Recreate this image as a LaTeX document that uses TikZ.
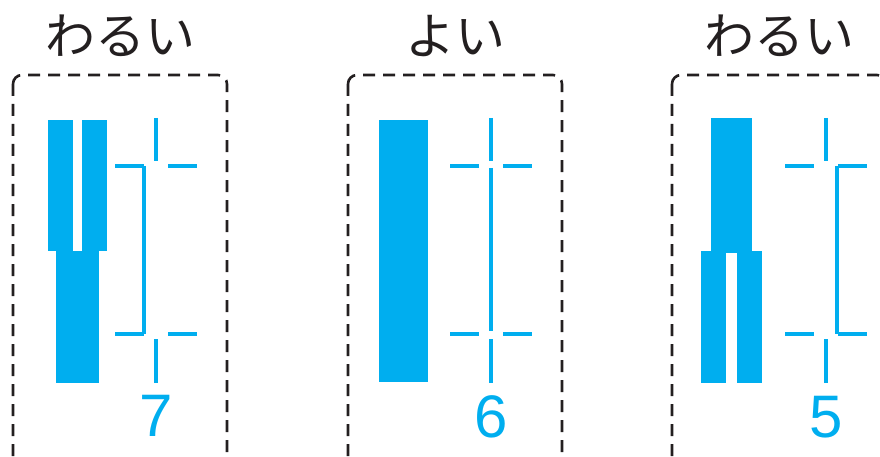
\documentclass[tikz,border=0pt]{standalone}
\usepackage{fontspec}
\newfontfamily\jpfont{Noto Sans CJK JP}
\newfontfamily\numfont{Liberation Sans}
\usetikzlibrary{positioning}
\definecolor{sky}{RGB}{0,174,239}
\definecolor{ink}{RGB}{35,31,32}
\tikzset{
  frame/.style={draw=ink,line width=2.6pt,dash pattern=on 12pt off 8pt,rounded corners=9pt},
  bar/.style={fill=sky},
  tickline/.style={draw=sky,line width=4.6pt},
  verdict/.style={font=\jpfont\fontsize{50}{60}\selectfont,text=ink,inner sep=0pt},
  count/.style={font=\numfont\fontsize{60}{70}\selectfont,text=sky,inner sep=0pt},
  % measuring gauge
  pics/ruler/.style={code={
    \draw[tickline] (0,118) -- (0,161) (0,339) -- (0,383);
    \draw[tickline] (-41,166) -- (-12,166) (12,166) -- (41,166);
    \draw[tickline] (-41,334) -- (-12,334) (12,334) -- (41,334);
  }},
}
\begin{document}
\begin{tikzpicture}[x=1pt,y=-1pt]
    \useasboundingbox (0,0) rectangle (880,457);
    \clip (0,0) rectangle (880,457);
    % frames and titles
    \foreach \cx/\t [count=\i] in {120/わるい,455/よい,779/わるい}{
      \draw[frame] (\cx-107,75) rectangle (\cx+107,475);
      \node[verdict] (t\i) at (\cx,36) {\t};
    }
    % left: split top
    \fill[bar] (48,120) rectangle (73,251);
    \fill[bar] (82,120) rectangle (107,251);
    \fill[bar] (56,251) rectangle (99,383);
    \pic at (156,0) {ruler};
    \draw[tickline,line join=miter] (144,166) -- (144,334);
    \node[count] (n1) at (156,416) {7};
    % middle: one piece
    \fill[bar] (379,120) rectangle (428,382);
    \pic at (491,0) {ruler};
    \draw[tickline] (491,168) -- (491,331);
    \node[count] (n2) at (491,417) {6};
    % right: split bottom
    \fill[bar] (711,118) rectangle (752,253);
    \fill[bar] (701,251) rectangle (726,383);
    \fill[bar] (737,251) rectangle (762,383);
    \pic at (826,0) {ruler};
    \draw[tickline] (837,166) -- (837,334);
    \node[count] (n3) at (826,417) {5};
\end{tikzpicture}
\end{document}
